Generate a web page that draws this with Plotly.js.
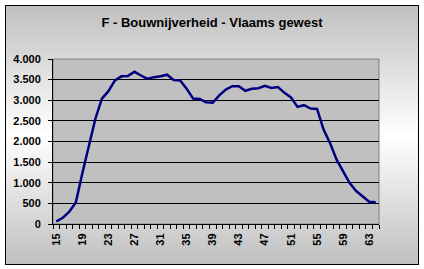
<!DOCTYPE html>
<html>
<head>
<meta charset="utf-8">
<script src="https://cdn.plot.ly/plotly-3.0.1.min.js"></script>
<style>
  html, body { margin: 0; padding: 0; background: #ffffff; }
  #wrap { position: relative; width: 424px; height: 269px; overflow: hidden; }
  #frame { position: absolute; left: 5px; top: 5px; width: 412px; height: 258px;
           border: 1px solid #000;
           background: linear-gradient(to bottom, #c0c0c0 0%, #ffffff 50%, #c0c0c0 100%); }
  #chart { position: absolute; left: 0; top: 0; width: 424px; height: 269px; }
</style>
</head>
<body>
<div id="wrap">
  <div id="frame"></div>
  <div id="chart"></div>
</div>
<script>
const titleText = "F - Bouwnijverheid - Vlaams gewest";
const ages = [15,16,17,18,19,20,21,22,23,24,25,26,27,28,29,30,31,32,33,34,35,36,37,38,39,
              40,41,42,43,44,45,46,47,48,49,50,51,52,53,54,55,56,57,58,59,60,61,62,63,64];
const workers = [60,150,300,520,1230,1880,2550,3040,3220,3480,3580,3590,3690,3600,3520,3560,3580,3620,3490,3480,
                 3280,3040,3030,2950,2940,3120,3260,3340,3340,3230,3280,3290,3350,3300,3320,3180,3070,2840,2880,2800,
                 2790,2290,1960,1560,1270,990,800,680,540,530];
const xTickVals = [15,19,23,27,31,35,39,43,47,51,55,59,63];
const yTickVals = [0,500,1000,1500,2000,2500,3000,3500,4000];

const font = "Liberation Sans, Arial, sans-serif";

Plotly.newPlot('chart', [{
  x: ages, y: workers, type: 'scatter', mode: 'lines',
  line: { color: '#000080', width: 2.5 },
  hoverinfo: 'skip'
}], {
  width: 424, height: 269,
  paper_bgcolor: 'rgba(0,0,0,0)',
  plot_bgcolor: '#c0c0c0',
  separators: ',.',
  margin: { l: 53, r: 45, t: 59, b: 45, pad: 0 },
  showlegend: false,
  title: { text: '<b>' + titleText + '</b>', x: 0.5, xanchor: 'center', y: 1 - 22/269, yanchor: 'middle',
           font: { family: font, size: 13, color: '#000' } },
  xaxis: {
    range: [14.5, 64.5], tickmode: 'array', tickvals: xTickVals, ticktext: xTickVals.map(String),
    ticks: '', tickangle: -90, showgrid: false, zeroline: false,
    showline: true, linecolor: '#000', linewidth: 1,
    ticklabelstandoff: 4,
    tickfont: { family: font, size: 11, color: '#000', weight: 'bold' },
    minor: { tick0: 14.5, dtick: 1, ticks: 'outside', ticklen: 4, tickcolor: '#000', showgrid: false },
    fixedrange: true
  },
  yaxis: {
    range: [0, 4000], tickmode: 'array', tickvals: yTickVals, tickformat: ',.0f',
    ticks: 'outside', ticklen: 4, tickcolor: '#000',
    showgrid: true, gridcolor: '#000', gridwidth: 1, zeroline: false,
    showline: true, linecolor: '#000', linewidth: 1,
    ticklabelstandoff: 5,
    tickfont: { family: font, size: 11, color: '#000', weight: 'bold' },
    fixedrange: true
  },
  shapes: [{
    type: 'rect', xref: 'paper', yref: 'paper', x0: 0, x1: 1, y0: 0, y1: 1,
    line: { color: '#808080', width: 1 }, layer: 'below'
  }]
}, { displayModeBar: false, staticPlot: true });
</script>
</body>
</html>
